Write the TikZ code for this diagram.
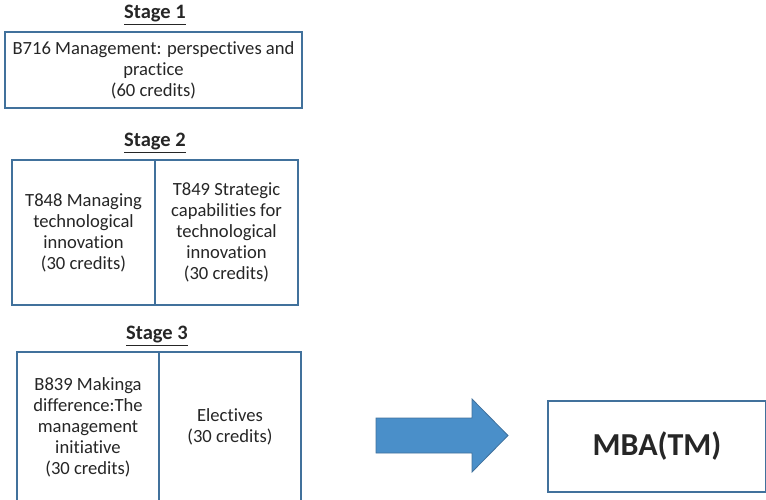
\documentclass[tikz,border=0pt]{standalone}
\usepackage{fontspec}
\setmainfont[Ligatures=NoCommon]{Carlito}
\definecolor{boxblue}{HTML}{41719C}
\definecolor{arrowfill}{HTML}{4A8FC9}
\definecolor{arrowline}{HTML}{41719C}
\begin{document}
\begin{tikzpicture}[x=1pt,y=-1pt,
  course/.style={draw=boxblue, line width=1.3pt, fill=white, align=center, inner sep=0pt,
    font=\fontsize{18.6}{21}\selectfont, text=black!85},
  stagetitle/.style={font=\bfseries\fontsize{20.5}{24}\selectfont, text=black!85, inner sep=0pt},
  award/.style={draw=boxblue, line width=1.3pt, fill=white, align=center, inner sep=0pt,
    font=\bfseries\fontsize{32}{38}\selectfont, text=black!85}]
\useasboundingbox (0,0) rectangle (766,499);
\clip (0,0) rectangle (766,499);
% Stage 1
\node[stagetitle] (s1) at (155,15) {\underline{Stage 1}};
\node[course, minimum width=297pt, minimum height=76pt] (b716) at (153.5,70)
  {B716 Management: perspectives and\\practice\\(60 credits)};
% Stage 2
\node[stagetitle] (s2) at (155,143) {\underline{Stage 2}};
\node[course, minimum width=143pt, minimum height=145pt] (t848) at (83.5,232.5)
  {T848 Managing\\technological\\innovation\\(30 credits)};
\node[course, minimum width=143pt, minimum height=145pt] (t849) at (226.5,232.5)
  {T849 Strategic\\capabilities for\\technological\\innovation\\(30 credits)};
% Stage 3
\node[stagetitle] (s3) at (157,336) {\underline{Stage 3}};
\node[course, minimum width=142pt, minimum height=150pt] (b839) at (88,427)
  {B839 Makinga\\difference:The\\management\\initiative\\(30 credits)};
\node[course, minimum width=142pt, minimum height=150pt] (elec) at (230,427)
  {Electives\\(30 credits)};
% Arrow
\draw[fill=arrowfill, draw=arrowline, line width=0.8pt]
  (376,418) -- (472,418) -- (472,399) -- (508,435.5) -- (472,472) -- (472,453) -- (376,453) -- cycle;
% Award
\node[award, minimum width=218pt, minimum height=91pt] (mba) at (657,446.5) {MBA(TM)};
\end{tikzpicture}
\end{document}
